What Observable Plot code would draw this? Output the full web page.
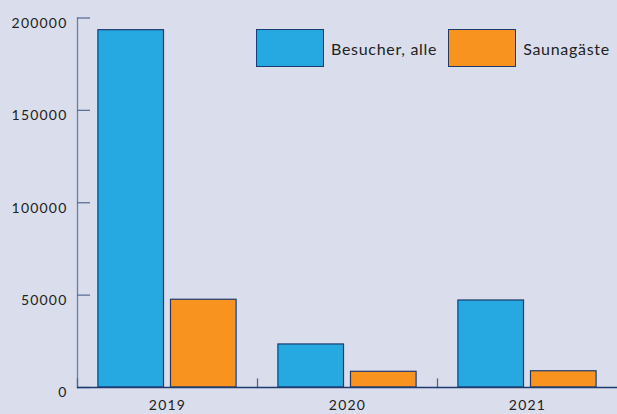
<!DOCTYPE html>
<html>
<head>
<meta charset="utf-8">
<script src="https://cdn.jsdelivr.net/npm/d3@7"></script>
<script src="https://cdn.jsdelivr.net/npm/@observablehq/plot@0.6"></script>
<style>
  html, body { margin: 0; padding: 0; background: #dadeec; }
  #wrap { position: relative; width: 617px; height: 414px; overflow: hidden; font-family: Lato, "Open Sans", sans-serif; }
  #legend { position: absolute; left: 256px; top: 29px; width: 361px; display: flex; align-items: center; font-size: 16px; color: #222; white-space: nowrap; }
  .sw { flex: none; width: 66px; height: 36px; border: 1.2px solid #1d3b6e; box-sizing: content-box; }
  .lab { flex: none; margin-left: 7px; margin-right: 11px; letter-spacing: 0.7px; }
  svg text { letter-spacing: 1.2px; }
</style>
</head>
<body>
<div id="wrap"><div id="legend"></div></div>
<script>
const years = ["2019", "2020", "2021"];
const series = ["Besucher, alle", "Saunagäste"];
const besucher = [193400, 23300, 47100];
const sauna = [47500, 8500, 8800];
const yTicks = [0, 50000, 100000, 150000, 200000];
const colors = ["#25a9e0", "#f7931e"];

const data = years.flatMap((yr, i) => [
  {year: yr, series: series[0], value: besucher[i]},
  {year: yr, series: series[1], value: sauna[i]}
]);

const chart = Plot.plot({
  width: 617,
  height: 414,
  marginLeft: 76,
  marginRight: 0,
  marginTop: 17.5,
  marginBottom: 27,
  style: {background: "transparent", fontFamily: "Lato, 'Open Sans', sans-serif", fontSize: "14px", color: "#222"},
  fx: {domain: years, padding: 0, label: null},
  x: {domain: series, paddingInner: 0.096, paddingOuter: 0.288, round: false, axis: null},
  y: {domain: [0, 200000], axis: null},
  color: {domain: series, range: colors},
  marks: [
    Plot.frame({anchor: "left", facetAnchor: "left", stroke: "#6a7eab", strokeWidth: 1.3}),
    Plot.frame({anchor: "left", insetTop: 361, stroke: "#4a6494", strokeWidth: 1.3}),
    Plot.axisY({ticks: yTicks, tickSize: 0, tickPadding: 10, dy: 5.5, tickFormat: d => String(d), label: null, fill: "#222"}),
    Plot.axisY({ticks: yTicks, tickSize: -13, fill: "none", stroke: "#5d6f96", strokeWidth: 1.3, label: null}),
    Plot.barY(data, {fx: "year", x: "series", y: "value", fill: "series", stroke: "#1d3b6e", strokeWidth: 1.2}),
    Plot.ruleY([0], {stroke: "#1d3b6e", strokeWidth: 1.3}),
    Plot.axisFx({anchor: "bottom", tickSize: 0, tickPadding: 13, label: null, fill: "#222"})
  ]
});
document.getElementById("wrap").prepend(chart);

const legend = document.getElementById("legend");
series.forEach((s, i) => {
  const sw = document.createElement("div");
  sw.className = "sw";
  sw.style.background = colors[i];
  const lab = document.createElement("span");
  lab.className = "lab";
  lab.textContent = s;
  legend.append(sw, lab);
});
</script>
</body>
</html>
